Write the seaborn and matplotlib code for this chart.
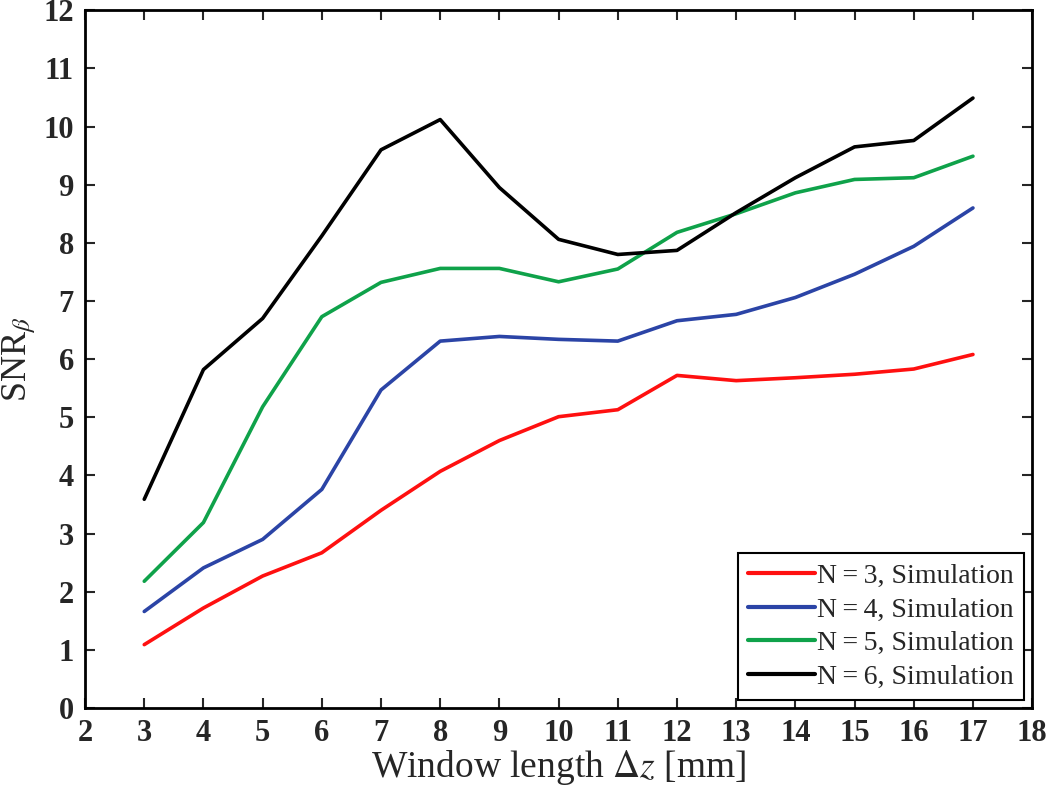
import pandas as pd
import matplotlib.pyplot as plt
import seaborn as sns

# valores
window = [3, 4, 5, 6, 7, 8, 9, 10, 11, 12, 13, 14, 15, 16, 17]
snr_n3 = [1.09, 1.72, 2.27, 2.67, 3.40, 4.07, 4.60, 5.01, 5.13, 5.72, 5.63, 5.68, 5.74, 5.83, 6.08]
snr_n4 = [1.66, 2.41, 2.90, 3.76, 5.47, 6.31, 6.39, 6.34, 6.31, 6.66, 6.77, 7.06, 7.46, 7.94, 8.60]
snr_n5 = [2.18, 3.19, 5.18, 6.73, 7.32, 7.56, 7.56, 7.33, 7.55, 8.18, 8.50, 8.86, 9.09, 9.12, 9.49]
snr_n6 = [3.59, 5.82, 6.70, 8.12, 9.60, 10.12, 8.95, 8.06, 7.80, 7.87, 8.52, 9.12, 9.65, 9.76, 10.49]
labels = ['N\u2009=\u20093, Simulation', 'N\u2009=\u20094, Simulation',
          'N\u2009=\u20095, Simulation', 'N\u2009=\u20096, Simulation']
colors = ['#ff1010', '#2b44a6', '#0fa24a', '#000000']

df = pd.concat([
    pd.DataFrame({'dz': window, 'snr': vals, 'serie': lab})
    for vals, lab in zip([snr_n3, snr_n4, snr_n5, snr_n6], labels)
])

sns.set_style('ticks')
plt.rcParams['font.family'] = ['Liberation Serif', 'DejaVu Serif']
plt.rcParams['mathtext.fontset'] = 'stix'

fig = plt.figure(figsize=(10.5, 7.88), dpi=100)
ax = fig.add_axes([0.081, 0.1015, 0.902, 0.8855])

sns.lineplot(data=df, x='dz', y='snr', hue='serie', palette=colors,
             linewidth=2.6, ax=ax)

ax.set_xlim(2, 18)
ax.set_ylim(0, 12)
ax.set_xticks(range(2, 19))
ax.set_yticks(range(0, 13))
ax.tick_params(direction='in', length=7, width=1.5, top=True, right=True,
               labelsize=22, pad=8)
for lab in ax.get_xticklabels() + ax.get_yticklabels():
    lab.set_fontweight('bold')
for sp in ax.spines.values():
    sp.set_linewidth(2)
    sp.set_color('black')

ax.set_xlabel(r'Window length $\Delta z$ [mm]', fontsize=27, labelpad=0)
ax.set_ylabel(r'SNR$_\beta$', fontsize=26, labelpad=4)

leg = ax.legend(loc='lower right', fontsize=20, frameon=True, fancybox=False,
                edgecolor='black', framealpha=1, handlelength=2.4,
                handletextpad=0.1, borderaxespad=0.3, labelspacing=0.3,
                borderpad=0.35)
leg.get_frame().set_linewidth(1.5)
for line in leg.get_lines():
    line.set_linewidth(3)

fig.savefig('out.png', dpi=100)
